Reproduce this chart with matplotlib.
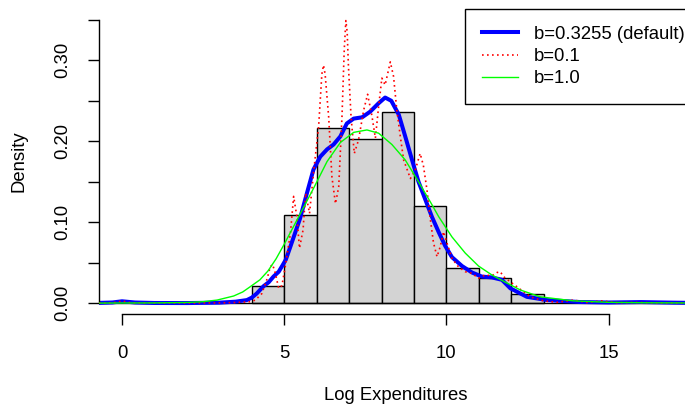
import matplotlib
matplotlib.use('Agg')
import matplotlib.pyplot as plt

plt.rcParams['font.family'] = ['Liberation Sans', 'DejaVu Sans']
plt.rcParams['font.size'] = 13.3

# histogram of log expenditures (density scale), unit-width bins
bin_left = [4, 5, 6, 7, 8, 9, 10, 11, 12]
hist_density = [0.021, 0.109, 0.216, 0.2025, 0.2365, 0.120, 0.044, 0.031, 0.011]

# kernel density estimate, default bandwidth b=0.3255
kde_default_x = [-0.71, -0.3, 0.0, 0.4, 1.0, 2.0, 3.0, 3.5, 3.85, 4.0, 4.15, 4.36, 4.52,
                 4.67, 4.83, 4.95, 5.05, 5.19, 5.49, 5.70, 5.90, 6.11, 6.32, 6.52, 6.73,
                 6.93, 7.14, 7.40, 7.65, 7.91, 8.11, 8.30, 8.53, 8.73, 8.94, 9.14, 9.35,
                 9.55, 9.76, 9.96, 10.17, 10.48, 10.79, 11.09, 11.40, 11.71, 11.97, 12.48,
                 13.1, 14.1, 15.0, 16.0, 17.0, 17.6]
kde_default_y = [0.0005, 0.001, 0.0025, 0.001, 0.0004, 0.0003, 0.0008, 0.002, 0.004, 0.007,
                 0.012, 0.021, 0.026, 0.033, 0.039, 0.047, 0.054, 0.070, 0.105, 0.136,
                 0.165, 0.181, 0.190, 0.196, 0.206, 0.222, 0.228, 0.2296, 0.2366, 0.247,
                 0.254, 0.250, 0.233, 0.206, 0.177, 0.150, 0.128, 0.107, 0.088, 0.071,
                 0.057, 0.046, 0.038, 0.033, 0.032, 0.029, 0.0185, 0.008, 0.004, 0.0016,
                 0.001, 0.0015, 0.0008, 0.0005]

# bandwidth b=0.1
kde_narrow_x = [-0.71, -0.3, -0.1, 0.0, 0.1, 0.3, 1.0, 2.0, 3.0, 3.5, 3.96, 4.11, 4.31,
                4.47, 4.57, 4.64, 4.72, 4.83, 4.93, 5.03, 5.19, 5.29, 5.39, 5.47, 5.58,
                5.66, 5.78, 5.90, 6.06, 6.16, 6.21, 6.26, 6.37, 6.47, 6.58, 6.68, 6.78,
                6.85, 6.90, 6.94, 6.98, 7.06, 7.16, 7.29, 7.45, 7.57, 7.70, 7.81, 7.91,
                8.01, 8.11, 8.27, 8.37, 8.47, 8.58, 8.68, 8.89, 9.04, 9.19, 9.29, 9.40,
                9.50, 9.60, 9.71, 9.81, 9.91, 10.02, 10.17, 10.37, 10.58, 10.79, 10.99,
                11.2, 11.40, 11.56, 11.66, 11.76, 11.82, 12.17, 12.58, 12.99, 13.41,
                13.92, 14.33, 14.79, 15.2, 15.87, 16.5, 17.6]
kde_narrow_y = [0.0003, 0.0005, 0.002, 0.003, 0.002, 0.0005, 0.0003, 0.0003, 0.0005, 0.001,
                0.002, 0.004, 0.012, 0.030, 0.045, 0.048, 0.038, 0.0185, 0.022, 0.045,
                0.086, 0.132, 0.107, 0.068, 0.0905, 0.136, 0.111, 0.160, 0.218, 0.283,
                0.294, 0.283, 0.230, 0.156, 0.123, 0.144, 0.230, 0.313, 0.349, 0.335,
                0.292, 0.230, 0.185, 0.2016, 0.2386, 0.258, 0.232, 0.204, 0.243, 0.278,
                0.2695, 0.298, 0.280, 0.2386, 0.2057, 0.177, 0.154, 0.1646, 0.185, 0.170,
                0.140, 0.105, 0.075, 0.0575, 0.070, 0.0884, 0.074, 0.0556, 0.045, 0.039,
                0.037, 0.031, 0.035, 0.034, 0.038, 0.039, 0.033, 0.031, 0.0205, 0.008,
                0.003, 0.0012, 0.004, 0.001, 0.003, 0.0008, 0.001, 0.0005, 0.0003]

# bandwidth b=1.0
kde_wide_x = [-0.71, 1.0, 2.0, 2.5, 2.93, 3.44, 3.72, 3.97, 4.25, 4.5, 4.75, 5.0, 5.25,
              5.5, 5.93, 6.32, 6.73, 7.14, 7.55, 7.91, 8.32, 8.73, 9.14, 9.55, 9.76,
              10.17, 10.58, 10.99, 11.40, 11.82, 12.28, 12.89, 13.92, 15.0, 16.0, 17.6]
kde_wide_y = [0.0003, 0.0005, 0.001, 0.002, 0.004, 0.009, 0.014, 0.021, 0.029, 0.040,
              0.055, 0.073, 0.092, 0.111, 0.144, 0.175, 0.1985, 0.211, 0.214, 0.210,
              0.196, 0.177, 0.150, 0.122, 0.107, 0.082, 0.062, 0.046, 0.035, 0.026,
              0.0164, 0.008, 0.003, 0.0012, 0.0007, 0.0004]

fig = plt.figure(figsize=(6.85, 4.08), dpi=100)
# plot region runs a little past the right edge of the figure
ax = fig.add_axes([99 / 685, 94 / 408, 593 / 685, 305 / 408])

ax.bar(bin_left, hist_density, width=1, align='edge', color='#D3D3D3',
       edgecolor='black', linewidth=1.0, zorder=1)
ax.axhline(0, color='black', linewidth=1.0, zorder=1)

ax.plot(kde_default_x, kde_default_y, color='#0000FF', linewidth=2.9,
        label='b=0.3255 (default)', zorder=2)
ax.plot(kde_narrow_x, kde_narrow_y, color='#FF0000', linewidth=1.2,
        linestyle=(0, (1, 2)), label='b=0.1', zorder=3)
ax.plot(kde_wide_x, kde_wide_y, color='#00FF00', linewidth=1.0,
        label='b=1.0', zorder=4)

ax.set_xlim(-0.71, 17.57)
ax.set_ylim(-0.0132, 0.3633)

ax.set_xticks([0, 5, 10, 15])
ax.set_yticks([0, 0.05, 0.10, 0.15, 0.20, 0.25, 0.30, 0.35])
ax.set_yticklabels(['0.00', '', '0.10', '', '0.20', '', '0.30', ''])
ax.tick_params(axis='both', direction='out', length=8, width=1.0)
ax.tick_params(axis='x', pad=14)
ax.tick_params(axis='y', pad=12, labelrotation=90)
for lab in ax.get_yticklabels():
    lab.set_verticalalignment('center')

for side in ['top', 'right']:
    ax.spines[side].set_visible(False)
ax.spines['left'].set_bounds(0, 0.35)
ax.spines['bottom'].set_bounds(0, 15)
ax.spines['left'].set_linewidth(1.0)
ax.spines['bottom'].set_linewidth(1.0)

ax.set_xlabel('Log Expenditures', labelpad=18)
ax.set_ylabel('Density', labelpad=19)

leg = ax.legend(loc='upper left', bbox_to_anchor=((465 - 99) / 593, 1.0),
                borderaxespad=0, fancybox=False, framealpha=1, edgecolor='black',
                borderpad=0.9, labelspacing=0.29, handlelength=1.95, handletextpad=0.86)
leg.get_frame().set_linewidth(1.0)

fig.savefig('out.png', dpi=100)
